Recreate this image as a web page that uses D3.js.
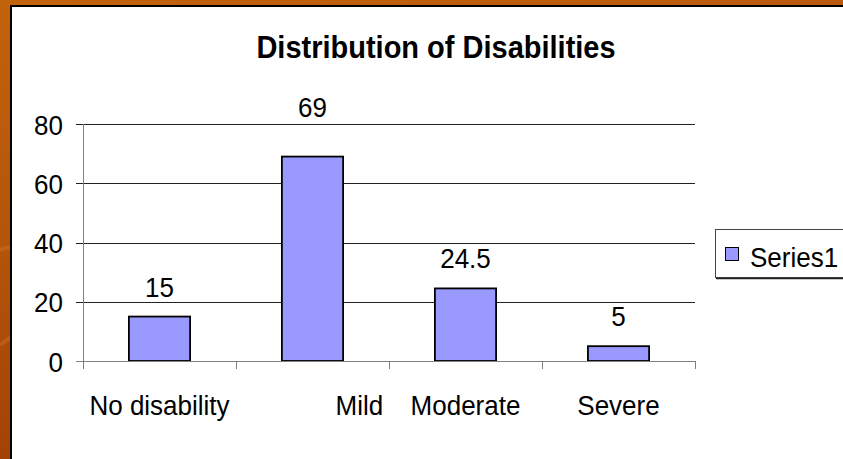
<!DOCTYPE html>
<html>
<head>
<meta charset="utf-8">
<script src="https://cdn.jsdelivr.net/npm/d3@7/dist/d3.min.js"></script>
<style>
  html, body { margin: 0; padding: 0; background: #fff; }
  svg { display: block; }
  text { font-family: "Liberation Sans", Arial, sans-serif; fill: #000; }
</style>
</head>
<body>
<svg id="chart" width="843" height="459"></svg>
<script>
// ---- data ----
const title = "Distribution of Disabilities";
const categories = ["No disability", "             Mild", "Moderate", "Severe"];
const values = [15, 69, 24.5, 5];
const valueLabels = ["15", "69", "24.5", "5"];
const yTicks = [0, 20, 40, 60, 80];
const seriesName = "Series1";

// ---- layout ----
const W = 843, H = 459;
const plot = { left: 83, right: 695, top: 124, bottom: 361 };
const STRETCH = 1.08; // text in the reference is slightly taller than wide
const svg = d3.select("#chart");

function place(sel, fx, fy) {
  return sel.attr("transform", (d, i) => `translate(${fx(d, i)},${fy(d, i)}) scale(1,${STRETCH})`);
}

// background frame
const defs = svg.append("defs");
const grad = defs.append("linearGradient").attr("id", "bg").attr("x1", 0).attr("y1", 0).attr("x2", 0.3).attr("y2", 1);
grad.append("stop").attr("offset", "0%").attr("stop-color", "#C2620C");
grad.append("stop").attr("offset", "50%").attr("stop-color", "#B4540A");
grad.append("stop").attr("offset", "100%").attr("stop-color", "#A03E04");
svg.append("rect").attr("x", 0).attr("y", 0).attr("width", W).attr("height", H).attr("fill", "url(#bg)");
svg.append("path").attr("d", "M0,250 Q20,240 40,270").attr("fill", "none").attr("stroke", "#D07A2A").attr("stroke-width", 4).attr("opacity", 0.4);
svg.append("path").attr("d", "M0,345 Q20,330 40,320").attr("fill", "none").attr("stroke", "#D07A2A").attr("stroke-width", 4).attr("opacity", 0.4);

// white chart area with black border
svg.append("rect").attr("x", 11).attr("y", 6).attr("width", W + 10).attr("height", H + 10)
  .attr("fill", "#fff").attr("stroke", "#000").attr("stroke-width", 2);

// scales
const x = d3.scaleBand().domain(categories).range([plot.left, plot.right]).paddingInner(0.6).paddingOuter(0.3);
const y = d3.scaleLinear().domain([0, 80]).range([plot.bottom, plot.top]);
const step = x.step();

const g = svg.append("g");
// gridlines
g.selectAll("line.grid").data(yTicks.filter(t => t > 0)).join("line")
  .attr("x1", plot.left - 7).attr("x2", plot.right)
  .attr("y1", d => Math.round(y(d)) + 0.5).attr("y2", d => Math.round(y(d)) + 0.5)
  .attr("stroke", "#222").attr("stroke-width", 1);

// y axis
g.append("line").attr("x1", plot.left + 0.5).attr("x2", plot.left + 0.5)
  .attr("y1", y(80)).attr("y2", y(0)).attr("stroke", "#808080");
g.append("line").attr("x1", plot.left - 7).attr("x2", plot.left)
  .attr("y1", Math.round(y(0)) + 0.5).attr("y2", Math.round(y(0)) + 0.5).attr("stroke", "#808080");

place(g.selectAll("text.ytick").data(yTicks).join("text")
  .attr("text-anchor", "end").attr("font-size", 26).text(d => d),
  () => 63, d => y(d) + 10.5);

// bars
g.selectAll("rect.bar").data(values).join("rect")
  .attr("x", (d, i) => x(categories[i]))
  .attr("y", d => y(d))
  .attr("width", x.bandwidth())
  .attr("height", d => y(0) - y(d))
  .attr("fill", "#9999FF").attr("stroke", "#000").attr("stroke-width", 1.8);

// x axis line + category ticks
g.append("line").attr("x1", plot.left).attr("x2", plot.right)
  .attr("y1", Math.round(y(0)) + 0.5).attr("y2", Math.round(y(0)) + 0.5).attr("stroke", "#808080");
const tickXs = d3.range(categories.length + 1).map(i => plot.left + i * step);
g.selectAll("line.xtick").data(tickXs).join("line")
  .attr("x1", d => Math.round(d) + 0.5).attr("x2", d => Math.round(d) + 0.5)
  .attr("y1", y(0)).attr("y2", y(0) + 8).attr("stroke", "#808080");

// category labels
place(g.selectAll("text.cat").data(categories).join("text")
  .attr("text-anchor", "middle").attr("font-size", 26)
  .style("white-space", "pre").text(d => d),
  d => x(d) + x.bandwidth() / 2, () => 415);

// value labels (lifted above the top gridline when they would cross it)
place(g.selectAll("text.val").data(values).join("text")
  .attr("text-anchor", "middle").attr("font-size", 26)
  .text((d, i) => valueLabels[i]),
  (d, i) => x(categories[i]) + x.bandwidth() / 2,
  d => (y(d) - 40 < y(80)) ? y(80) - 7.5 : y(d) - 20);

// title
place(svg.append("text").attr("text-anchor", "middle")
  .attr("font-size", 29).attr("font-weight", "bold").text(title),
  () => 436, () => 58);

// legend
const lg = svg.append("g");
lg.append("rect").attr("x", 715.5).attr("y", 229.5).attr("width", 140).attr("height", 48)
  .attr("fill", "#fff").attr("stroke", "#444").attr("stroke-width", 1);
lg.append("line").attr("x1", 716).attr("x2", W).attr("y1", 278.5).attr("y2", 278.5).attr("stroke", "#222").attr("stroke-width", 1.5);
lg.append("rect").attr("x", 725.5).attr("y", 247.5).attr("width", 13).attr("height", 13)
  .attr("fill", "#9999FF").attr("stroke", "#000").attr("stroke-width", 1);
place(lg.append("text").attr("font-size", 26).text(seriesName), () => 750, () => 266.5);
</script>
</body>
</html>
